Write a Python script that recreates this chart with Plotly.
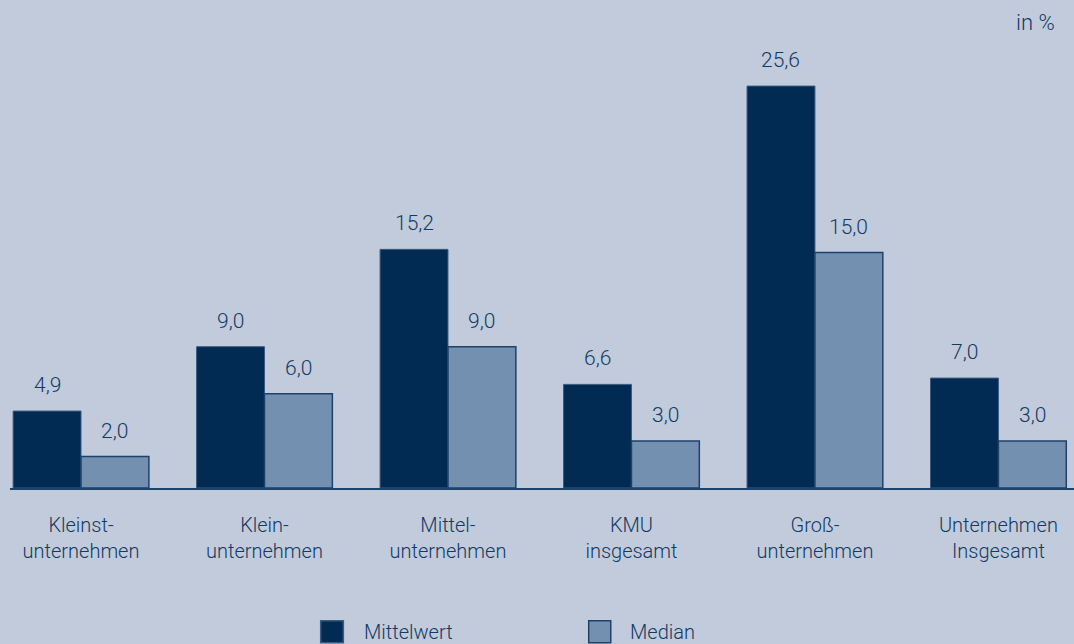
import plotly.graph_objects as go

# Unternehmensgrößenklassen (zweizeilige Achsenbeschriftung)
categories = ["Kleinst-<br>unternehmen", "Klein-<br>unternehmen", "Mittel-<br>unternehmen",
              "KMU<br>insgesamt", "Groß-<br>unternehmen", "Unternehmen<br>Insgesamt"]
series_names = ["Mittelwert", "Median"]
mittelwert = [4.9, 9.0, 15.2, 6.6, 25.6, 7.0]
median = [2.0, 6.0, 9.0, 3.0, 15.0, 3.0]

BG = "#c1cbdc"
DARK = "#012b53"
LIGHT = "#7490b0"
TEXT = "#133a63"
FONT = "Roboto"
WEIGHT = 300

idx = list(range(len(categories)))

fig = go.Figure()
fig.add_trace(go.Bar(x=idx, y=mittelwert, name=series_names[0],
                     marker=dict(color=DARK, line=dict(color="#3a5a80", width=1)),
                     showlegend=False))
fig.add_trace(go.Bar(x=idx, y=median, name=series_names[1],
                     marker=dict(color=LIGHT, line=dict(color="#1d426c", width=1.5)),
                     showlegend=False))

# Werte über den Balken (deutsches Dezimalkomma)
half = 0.185
annotations = []
for i in idx:
    for off, vals in ((-half, mittelwert), (half, median)):
        annotations.append(dict(x=i + off, y=vals[i], xref="x", yref="y",
                                text=f"{vals[i]:.1f}".replace(".", ","),
                                showarrow=False, yanchor="middle", yshift=26,
                                font=dict(family=FONT, size=21, color=TEXT, weight=WEIGHT)))

annotations.append(dict(x=1.0, y=1.0, xref="paper", yref="paper", text="in %",
                        showarrow=False, xanchor="right", yanchor="middle",
                        xshift=-17, yshift=-5,
                        font=dict(family=FONT, size=22, color=TEXT, weight=WEIGHT)))

# Legende unten
legend_boxes = [(0.292, 0.3133, DARK, "#3a5a80"), (0.5439, 0.5646, LIGHT, "#1d426c")]
legend_text_x = [0.3308, 0.5808]
shapes = []
for (x0, x1, fill, line), tx, name in zip(legend_boxes, legend_text_x, series_names):
    shapes.append(dict(type="rect", xref="paper", yref="paper", x0=x0, x1=x1,
                       y0=-0.3285, y1=-0.2817, fillcolor=fill,
                       line=dict(color=line, width=1.5)))
    annotations.append(dict(x=tx, y=-0.3057, xref="paper", yref="paper", text=name,
                            showarrow=False, xanchor="left", yanchor="middle",
                            font=dict(family=FONT, size=20, color=TEXT, weight=WEIGHT)))

fig.update_layout(
    width=1074, height=644,
    margin=dict(l=10, r=0, t=17, b=156),
    paper_bgcolor=BG, plot_bgcolor=BG,
    barmode="group", bargap=0.26, bargroupgap=0,
    font=dict(family=FONT, size=20, color=TEXT, weight=WEIGHT),
    annotations=annotations, shapes=shapes,
    xaxis=dict(range=[-0.387, 5.412], tickmode="array", tickvals=idx, ticktext=categories,
               showline=True, linecolor="#1d426c", linewidth=2, showgrid=False,
               zeroline=False, ticks="outside", ticklen=18, tickcolor=BG,
               tickfont=dict(family=FONT, size=20, color=TEXT, weight=WEIGHT)),
    yaxis=dict(range=[0, 30], visible=False, showgrid=False, zeroline=False),
)

fig.write_html("out.html")
